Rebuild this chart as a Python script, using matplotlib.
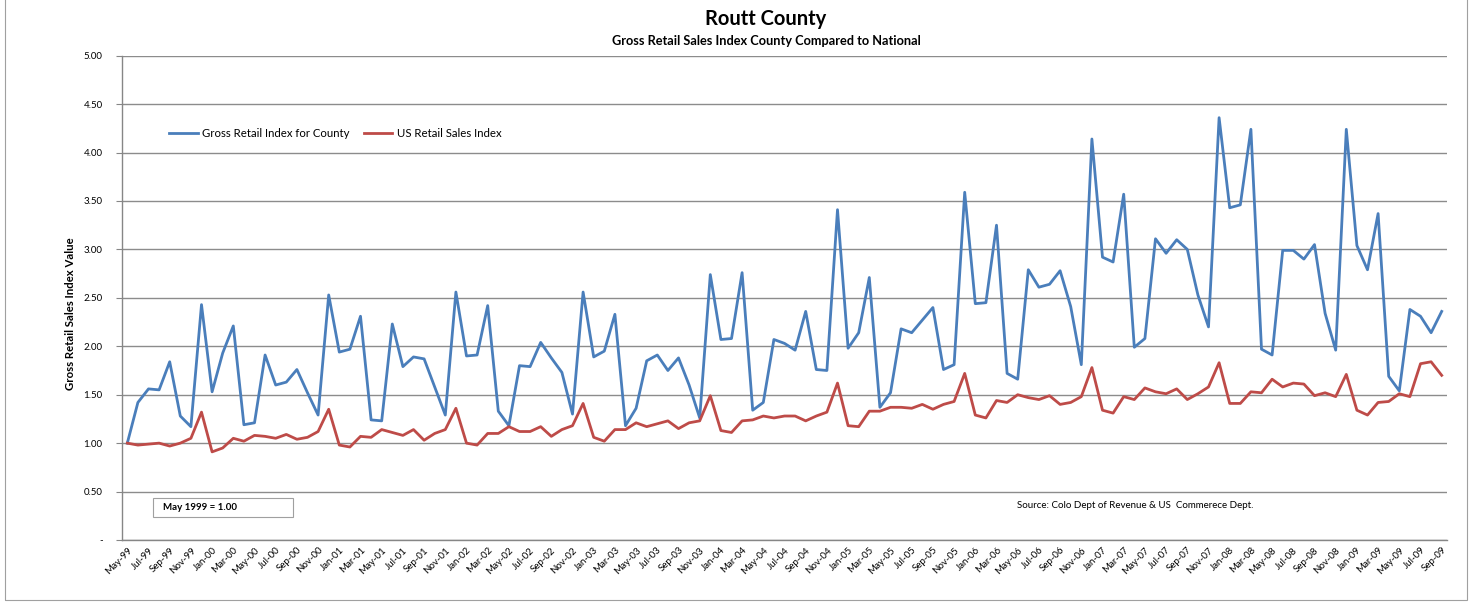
import matplotlib
matplotlib.use("Agg")
import matplotlib.pyplot as plt
import pandas as pd
from matplotlib.patches import Rectangle

plt.rcParams['font.family'] = ['Lato', 'DejaVu Sans']

county_index = [
    1.00, 1.42, 1.56, 1.55, 1.84, 1.28, 1.17, 2.43, 1.53, 1.93, 2.21, 1.19, 1.21, 1.91, 1.60, 1.63, 1.76, 1.52, 1.29, 2.53, 1.94, 1.97, 2.31, 1.24, 1.23,
    2.23, 1.79, 1.89, 1.87, 1.58, 1.29, 2.56, 1.90, 1.91, 2.42, 1.33, 1.18, 1.80, 1.79, 2.04, 1.88, 1.73, 1.30, 2.56, 1.89, 1.95, 2.33, 1.18, 1.36, 1.85, 1.91,
    1.75, 1.88, 1.60, 1.26, 2.74, 2.07, 2.08, 2.76, 1.34, 1.42, 2.07, 2.03, 1.96, 2.36, 1.76, 1.75, 3.41, 1.98, 2.14, 2.71, 1.37, 1.52, 2.18, 2.14, 2.27,
    2.40, 1.76, 1.81, 3.59, 2.44, 2.45, 3.25, 1.72, 1.66, 2.79, 2.61, 2.64, 2.78, 2.41, 1.81, 4.14, 2.92, 2.87, 3.57, 1.99, 2.08, 3.11, 2.96, 3.10, 3.00,
    2.53, 2.20, 4.36, 3.43, 3.46, 4.24, 1.97, 1.91, 2.99, 2.99, 2.90, 3.05, 2.34, 1.96, 4.24, 3.04, 2.79, 3.37, 1.69, 1.54, 2.38, 2.31, 2.14, 2.36,
]

us_index = [
    1.00, 0.98, 0.99, 1.00, 0.97, 1.00, 1.05, 1.32, 0.91, 0.95, 1.05, 1.02, 1.08, 1.07, 1.05, 1.09, 1.04, 1.06, 1.12, 1.35, 0.98, 0.96, 1.07, 1.06, 1.14,
    1.11, 1.08, 1.14, 1.03, 1.10, 1.14, 1.36, 1.00, 0.98, 1.10, 1.10, 1.17, 1.12, 1.12, 1.17, 1.07, 1.14, 1.18, 1.41, 1.06, 1.02, 1.14, 1.14, 1.21, 1.17, 1.20,
    1.23, 1.15, 1.21, 1.23, 1.49, 1.13, 1.11, 1.23, 1.24, 1.28, 1.26, 1.28, 1.28, 1.23, 1.28, 1.32, 1.62, 1.18, 1.17, 1.33, 1.33, 1.37, 1.37, 1.36, 1.40,
    1.35, 1.40, 1.43, 1.72, 1.29, 1.26, 1.44, 1.42, 1.50, 1.47, 1.45, 1.49, 1.40, 1.42, 1.48, 1.78, 1.34, 1.31, 1.48, 1.45, 1.57, 1.53, 1.51, 1.56, 1.45,
    1.51, 1.58, 1.83, 1.41, 1.41, 1.53, 1.52, 1.66, 1.58, 1.62, 1.61, 1.49, 1.52, 1.48, 1.71, 1.34, 1.29, 1.42, 1.43, 1.51, 1.48, 1.82, 1.84, 1.70,
]

months = pd.date_range("1999-05-01", periods=len(county_index), freq="MS")
month_labels = [m.strftime("%b-%y") for m in months]
y_ticks = [0, 0.5, 1.0, 1.5, 2.0, 2.5, 3.0, 3.5, 4.0, 4.5, 5.0]
y_tick_labels = ["-"] + [f"{v:.2f}" for v in y_ticks[1:]]

W, H = 1475, 603
fig = plt.figure(figsize=(W / 100, H / 100), dpi=100)
ax = fig.add_axes([122 / W, 1 - 540 / H, (1447 - 122) / W, (540 - 55.7) / H])

x = list(range(len(county_index)))
ax.plot(x, county_index, color="#4A7EBB", lw=2.0, label="Gross Retail Index for County", solid_joinstyle="round")
ax.plot(x, us_index, color="#BE4B48", lw=2.0, label="US Retail Sales Index", solid_joinstyle="round")

ax.set_xlim(-0.5, len(x) - 0.5)
ax.set_ylim(0, 5)
ax.set_yticks(y_ticks)
ax.set_yticklabels(y_tick_labels, fontsize=7)
ax.set_xticks(x[::2])
ax.set_xticklabels(month_labels[::2], rotation=45, ha="right", rotation_mode="anchor", fontsize=7)
ax.tick_params(axis="x", length=0, pad=4)
ax.tick_params(axis="y", length=4, color="#868686", pad=10)
ax.grid(axis="y", color="#8C8C8C", lw=1.0)
ax.set_axisbelow(True)
for s in ["top", "right"]:
    ax.spines[s].set_visible(False)
for s in ["left", "bottom"]:
    ax.spines[s].set_color("#868686")
    ax.spines[s].set_linewidth(1.0)

leg = ax.legend(loc="upper left", bbox_to_anchor=(0.028, 0.872), ncol=2, frameon=False,
                fontsize=8.2, handlelength=2.5, columnspacing=1.2, handletextpad=0.4)

fig.text(766 / W, 1 - 19 / H, "Routt County", ha="center", va="center", fontsize=14.5, fontweight="bold")
fig.text(766 / W, 1 - 41 / H, "Gross Retail Sales Index County Compared to National", ha="center", va="center",
         fontsize=9.2, fontweight="bold")
fig.text(71 / W, 1 - 314 / H, "Gross Retail Sales Index Value", ha="center", va="center", rotation=90,
         fontsize=8.2, fontweight="bold")
fig.text(1017 / W, 1 - 506 / H, "Source: Colo Dept of Revenue & US  Commerece Dept.", ha="left", va="center", fontsize=7)

fig.patches.append(Rectangle((153 / W, 1 - 517 / H), 140 / W, 19 / H, transform=fig.transFigure,
                             fill=False, edgecolor="#A0A0A0", lw=0.8))
fig.text(163 / W, 1 - 508 / H, "May 1999 = 1.00", ha="left", va="center", fontsize=7, fontweight="bold")

fig.patches.append(Rectangle((5 / W, 3 / H), 1462 / W, (H - 2) / H, transform=fig.transFigure,
                             fill=False, edgecolor="#A0A0A0", lw=0.8))

fig.savefig("out.png", dpi=100, facecolor="white")
